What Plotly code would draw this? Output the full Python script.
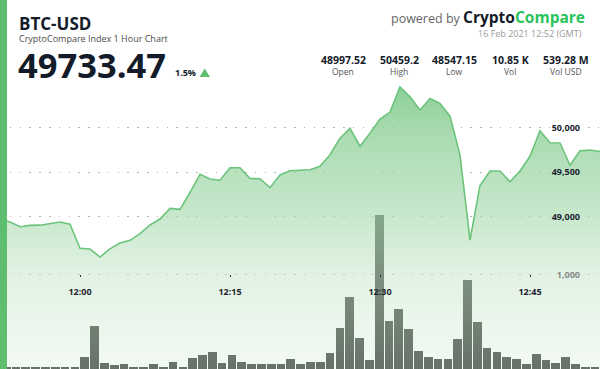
import pandas as pd
import plotly.graph_objects as go

# ---------------- data ----------------
times = pd.date_range("2021-02-16 11:52", "2021-02-16 12:52", freq="min")

price = [48975, 48940, 48888, 48903, 48905, 48921, 48940, 48915,
         48645, 48637, 48547.15, 48639, 48704, 48735, 48809, 48907,
         48974, 49094, 49083, 49272, 49478, 49424, 49410, 49551,
         49550, 49429, 49427, 49326, 49469, 49516, 49525, 49527,
         49567, 49696, 49882, 49994, 49792, 49938, 50098, 50176,
         50459.2, 50349, 50199, 50328, 50272, 50130, 49693, 48738,
         49351, 49513, 49513, 49393, 49513, 49679, 49965, 49831,
         49828, 49578, 49740, 49749, 49733.47]

volume = [14, 14, 14, 14, 21, 14, 14, 14,
          124, 453, 60, 39, 50, 18, 24, 50,
          18, 71, 24, 113, 145, 183, 67, 148,
          71, 50, 50, 50, 50, 106, 53, 77,
          77, 166, 432, 767, 326, 95, 1636, 509,
          633, 421, 191, 130, 109, 109, 315, 944,
          502, 226, 177, 124, 103, 53, 156, 95,
          60, 124, 56, 24, 12]

price_ticks = [49000, 49500, 50000]
volume_ticks = [1000]
time_ticks = ["2021-02-16 12:00", "2021-02-16 12:15", "2021-02-16 12:30", "2021-02-16 12:45"]

pair = "BTC-USD"
subtitle = "CryptoCompare Index 1 Hour Chart"
last_price = "49733.47"
change = "1.5%"
stamp = "16 Feb 2021 12:52 (GMT)"
stat_values = ["48997.52", "50459.2", "48547.15", "10.85 K", "539.28 M"]
stat_labels = ["Open", "High", "Low", "Vol", "Vol USD"]

# ---------------- style ----------------
W, H = 600, 369
FONT = "Open Sans"
DARK = "#141b29"
GREEN = "#5fbd6f"
LINE = "#6cc47b"

def px(x):
    return x / W

def py(y):
    return 1 - y / H

fig = go.Figure()

# volume bars (base axes, drawn below the area fill)
fig.add_trace(go.Bar(
    x=times, y=volume, xaxis="x", yaxis="y",
    marker=dict(color="#363c37", line=dict(width=0)),
    width=53190, hoverinfo="skip",
))

# price area (overlay axes)
fig.add_trace(go.Scatter(
    x=times, y=price, xaxis="x2", yaxis="y2", mode="lines",
    line=dict(color=LINE, width=1.6),
    fill="tozeroy",
    fillgradient=dict(
        type="vertical", start=47289, stop=50459.2,
        colorscale=[
            [0.0, "rgba(214,236,217,0.30)"],
            [0.336, "rgba(195,229,199,0.50)"],
            [0.54, "rgba(172,220,178,0.66)"],
            [0.845, "rgba(146,210,156,0.80)"],
            [1.0, "rgba(128,202,140,0.90)"],
        ],
    ),
    hoverinfo="skip",
))

grid = dict(showgrid=True, gridcolor="#b4b4b4", gridwidth=1, griddash="1.5px,8.3px")

fig.update_layout(
    width=W, height=H, autosize=False,
    margin=dict(l=0, r=0, t=0, b=0, pad=0),
    paper_bgcolor="white", plot_bgcolor="white",
    showlegend=False, bargap=0,
    font=dict(family=FONT, color=DARK),
    xaxis=dict(type="date", domain=[0, 1],
               range=["2021-02-16 11:51:22", "2021-02-16 12:52:30"],
               visible=False, fixedrange=True),
    yaxis=dict(domain=[0, 1], range=[0, 3913], side="right",
               tickvals=volume_ticks, tickformat=",",
               ticklabelposition="inside", ticks="", ticklabelstandoff=17,
               tickfont=dict(family=FONT, size=9, color="#8a8a8a", weight="bold"),
               zeroline=False, showline=False, **grid),
    xaxis2=dict(type="date", overlaying="x", anchor="free", position=py(274),
                range=["2021-02-16 11:52:00", "2021-02-16 12:52:00"],
                tickvals=time_ticks, tickformat="%H:%M",
                ticks="outside", ticklen=2, tickwidth=1, tickcolor="#333",
                ticklabelstandoff=7,
                tickfont=dict(family=FONT, size=9, color="#1d2330", weight="bold"),
                showgrid=False, zeroline=False, showline=False),
    yaxis2=dict(overlaying="y", anchor="x2", side="right", range=[47289, 51435],
                tickvals=price_ticks, tickformat=",",
                ticklabelposition="inside", ticks="", ticklabelstandoff=17,
                tickfont=dict(family=FONT, size=9, color="#1d2330", weight="bold"),
                zeroline=False, showline=False, **grid),
)

# left green strip
fig.add_shape(type="rect", xref="paper", yref="paper", x0=0, x1=px(7), y0=0, y1=1,
              fillcolor=GREEN, line=dict(width=0), layer="above")
# up-arrow triangle next to the change
fig.add_shape(type="path", xref="paper", yref="paper",
              path=f"M {px(199.5)} {py(77)} L {px(210)} {py(77)} L {px(204.75)} {py(68.5)} Z",
              fillcolor=GREEN, line=dict(width=0), layer="above")

ann = []
def A(text, x, y, size, color=DARK, xanchor="left", bold=False, h=None):
    d = dict(text=(f"<b>{text}</b>" if bold else text), x=px(x), y=py(y),
             xref="paper", yref="paper", xanchor=xanchor, yanchor="middle",
             showarrow=False, font=dict(family=FONT, size=size, color=color))
    if h is not None:
        d["height"] = h
        d["valign"] = "middle"
    ann.append(d)

A(pair, 16.5, 23.5, 17, bold=True, h=19)
A(subtitle, 17, 38.5, 9, color="#4a4a4a", h=11)
A(last_price, 15.5, 64, 34.5, bold=True, h=37)
A(change, 172.5, 73, 9, bold=True)
A('powered by <span style="font-size:15.5px;color:#141b29"><b>Crypto</b></span>'
  '<span style="font-size:15.5px;color:#2bc35c"><b>Compare</b></span>',
  587, 17, 12.5, color="#666666", xanchor="right")
A(stamp, 584, 33.5, 9, color="#9a9a9a", xanchor="right")
for v, l, x in zip(stat_values, stat_labels, [343, 399, 454.5, 510, 566]):
    A(v, x, 59.5, 10.5, xanchor="center", bold=True)
    A(l, x, 72, 8.5, color="#555555", xanchor="center")

fig.update_layout(annotations=ann)

fig.write_html("out.html", config={"displayModeBar": False},
               post_script="document.body.style.margin='0';document.body.style.padding='0';")
